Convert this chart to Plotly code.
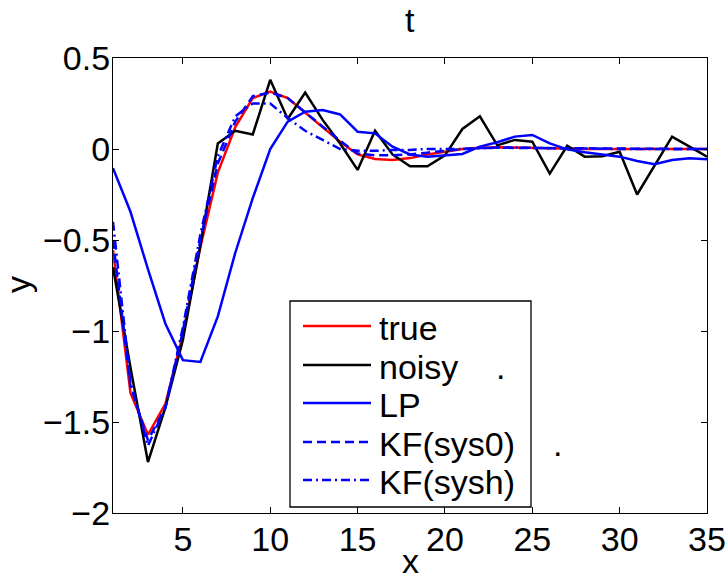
import plotly.graph_objects as go

x = list(range(1, 36))

true_y = [-0.555, -1.34, -1.57, -1.40, -1.02, -0.54, -0.13, 0.12, 0.28, 0.315,
          0.28, 0.20, 0.12, 0.04, -0.03, -0.055, -0.06, -0.05, -0.03, -0.015,
          0.0, 0.007, 0.01, 0.008, 0.005, 0.003, 0.001, 0.0, 0.0, 0.0,
          0.0, 0.0, 0.0, 0.0, 0.0]
noisy_y = [-0.65, -1.2, -1.72, -1.42, -1.05, -0.53, 0.03, 0.10, 0.08, 0.38,
           0.165, 0.31, 0.16, 0.03, -0.115, 0.10, -0.03, -0.095, -0.095, -0.035,
           0.11, 0.18, 0.02, 0.05, 0.04, -0.135, 0.018, -0.042, -0.04, -0.015,
           -0.25, -0.088, 0.068, 0.013, -0.042]
lp_y = [-0.105, -0.345, -0.66, -0.96, -1.16, -1.17, -0.92, -0.57, -0.27, 0.0,
        0.15, 0.205, 0.214, 0.19, 0.095, 0.086, 0.013, -0.03, -0.042, -0.033,
        -0.027, 0.013, 0.037, 0.068, 0.077, 0.031, -0.002, -0.018, -0.029, -0.042,
        -0.066, -0.084, -0.06, -0.051, -0.057]
kf0_y = [-0.5, -1.3, -1.6, -1.42, -1.0, -0.5, -0.08, 0.15, 0.29, 0.31,
         0.28, 0.20, 0.12, 0.045, -0.025, -0.035, -0.035, -0.03, -0.02, -0.01,
         0.0, 0.005, 0.008, 0.006, 0.005, 0.004, 0.003, 0.002, 0.001, 0.0,
         0.0, 0.0, 0.0, 0.0, 0.0]
kfh_y = [-0.4, -1.28, -1.63, -1.42, -0.98, -0.47, -0.04, 0.18, 0.25, 0.25,
         0.17, 0.10, 0.05, 0.0, -0.01, -0.01, -0.005, -0.005, 0.0, 0.0,
         0.0, 0.005, 0.008, 0.008, 0.006, 0.004, 0.003, 0.002, 0.001, 0.0,
         0.0, 0.0, 0.0, 0.0, 0.0]

names = ["true", "noisy", "LP", "KF(sys0)", "KF(sysh)"]
series = [true_y, noisy_y, lp_y, kf0_y, kfh_y]
colors = ["#ff0000", "#000000", "#0000ff", "#0000ff", "#0000ff"]
dashes = ["solid", "solid", "solid", "9px,5px", "9px,4px,2px,4px"]

x_ticks = [5, 10, 15, 20, 25, 30, 35]
y_ticks = [0.5, 0, -0.5, -1, -1.5, -2]
y_ticklabels = ["0.5", "0", "\u22120.5", "\u22121", "\u22121.5", "\u22122"]

FONT = "Liberation Sans, Arial, Helvetica, sans-serif"
FS = 34
LW = 2.5

fig = go.Figure()
for name, yv, c, d in zip(names, series, colors, dashes):
    fig.add_trace(go.Scatter(x=x, y=yv, mode="lines", name=name,
                             line=dict(color=c, width=LW, dash=d),
                             showlegend=False))

# plot area in pixels
L, R, T, B = 113, 707, 58, 513
W, H = 728, 581
pw, ph = R - L, B - T

def px(p):
    return (p - L) / pw

def py(p):
    return (B - p) / ph

# manual legend (MATLAB style)
shapes = [dict(type="rect", xref="paper", yref="paper",
               x0=px(290), x1=px(531), y0=py(507), y1=py(301),
               line=dict(color="black", width=1.3), fillcolor="white", layer="above")]
annotations = []
rows = [326, 365, 403, 442, 480]
for name, c, d, r in zip(names, colors, dashes, rows):
    shapes.append(dict(type="line", xref="paper", yref="paper",
                       x0=px(303), x1=px(371), y0=py(r), y1=py(r),
                       line=dict(color=c, width=LW, dash=d), layer="above"))
    annotations.append(dict(xref="paper", yref="paper", x=px(377), y=py(r + 2),
                            text=name, showarrow=False, xanchor="left", yanchor="middle",
                            font=dict(family=FONT, size=FS, color="black")))
for dx, r in [(500, 365), (557, 442)]:
    annotations.append(dict(xref="paper", yref="paper", x=px(dx), y=py(r + 2),
                            text=".", showarrow=False, xanchor="center", yanchor="middle",
                            font=dict(family=FONT, size=FS, color="black")))

# title and axis labels
annotations.append(dict(xref="paper", yref="paper", x=0.5, y=py(20), text="t",
                        showarrow=False, xanchor="center", yanchor="middle",
                        font=dict(family=FONT, size=FS, color="black")))
annotations.append(dict(xref="paper", yref="paper", x=0.5, y=py(561), text="x",
                        showarrow=False, xanchor="center", yanchor="middle",
                        font=dict(family=FONT, size=FS, color="black")))
annotations.append(dict(xref="paper", yref="paper", x=px(18), y=py(285), text="y",
                        showarrow=False, xanchor="center", yanchor="middle", textangle=-90,
                        font=dict(family=FONT, size=FS, color="black")))

axis_common = dict(showline=True, linecolor="black", linewidth=1.3, mirror="ticks",
                   ticks="inside", ticklen=6, tickcolor="black", tickwidth=1,
                   showgrid=False, zeroline=False,
                   tickfont=dict(family=FONT, size=FS, color="black"))

fig.update_layout(
    width=W, height=H,
    margin=dict(l=L, r=W - R, t=T, b=H - B, autoexpand=False),
    paper_bgcolor="white", plot_bgcolor="white",
    xaxis=dict(range=[1, 35], tickvals=x_ticks, ticklabelstandoff=-4, **axis_common),
    yaxis=dict(range=[-2, 0.5], tickvals=y_ticks, ticktext=y_ticklabels,
               ticklabelstandoff=-5, **axis_common),
    shapes=shapes, annotations=annotations,
    showlegend=False,
)

fig.write_html("out.html")
